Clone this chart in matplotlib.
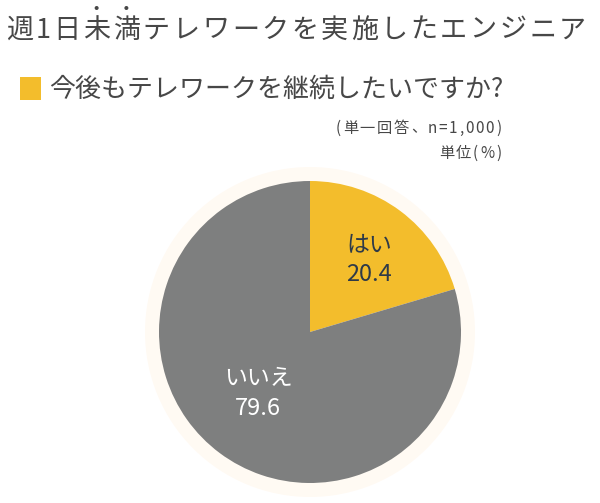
import matplotlib
matplotlib.use("Agg")
import matplotlib.pyplot as plt
from matplotlib.patches import Circle, Rectangle
import numpy as np

plt.rcParams['font.family'] = ['Noto Sans CJK JP', 'DejaVu Sans']

categories = ['はい', 'いいえ']
values = [20.4, 79.6]
colors = ['#F3BD2C', '#7E7F7F']
label_colors = ['#2E3A48', '#FFFFFF']
label_dist = [0.60, 0.51]
label_dx = [5, -6]

title = '週1日未満テレワークを実施したエンジニア'
emphasis = [3, 4]  # indices of 未, 満
question = '今後もテレワークを継続したいですか?'
note1 = '(単一回答、n=1,000)'
note2 = '単位(%)'

W, H = 600, 503
fig = plt.figure(figsize=(W / 100, H / 100), dpi=100)
fig.patch.set_facecolor('white')
ax = fig.add_axes([0, 0, 1, 1])
ax.set_xlim(0, W)
ax.set_ylim(0, H)
ax.set_aspect('equal')
ax.axis('off')

txt = '#474747'
renderer = fig.canvas.get_renderer()

# text drawn char by char with tracking to match span
def tracked_text(s, x0, x1, y, size, color):
    items = []
    widths = []
    for ch in s:
        t = ax.text(0, y, ch, fontsize=size, color=color, ha='left', va='center')
        bb = t.get_window_extent(renderer)
        items.append(t)
        widths.append(bb.width)
    gap = (x1 - x0 - sum(widths)) / (len(s) - 1)
    x = x0
    centers = []
    for t, w in zip(items, widths):
        t.set_x(x)
        centers.append(x + w / 2)
        x += w + gap
    return centers

centers = tracked_text(title, 6, 586, H - 30, 19.5, txt)
for i in emphasis:
    ax.add_patch(Circle((centers[i], H - 8), 2.0, color=txt, lw=0))

# legend square + question
ax.add_patch(Rectangle((20, H - 100), 21, 23, color=colors[0], lw=0))
ax.text(49, H - 89, question, fontsize=18.7, color=txt, ha='left', va='center')

tracked_text(note1, 336, 501, H - 128, 11, txt)
tracked_text(note2, 439, 501, H - 153, 11, txt)

cx, cy, r = 310, H - 332, 151
ax.add_patch(Circle((cx, cy), 165, color='#FFFAF3', lw=0, zorder=0))
wedges, _ = ax.pie(values, colors=colors, startangle=90, counterclock=False,
                   center=(cx, cy), radius=r, frame=True,
                   wedgeprops=dict(linewidth=0))
ax.set_xlim(0, W)
ax.set_ylim(0, H)
ax.axis('off')

for w, cat, val, c, d, dx in zip(wedges, categories, values, label_colors, label_dist, label_dx):
    ang = np.deg2rad((w.theta1 + w.theta2) / 2)
    x = cx + d * r * np.cos(ang) + dx
    y = cy + d * r * np.sin(ang)
    ax.text(x, y + 15, cat, fontsize=16.5, color=c, ha='center', va='center')
    ax.text(x, y - 15, f'{val:.1f}', fontsize=17, color=c, ha='center', va='center')

fig.savefig('out.png', dpi=100, facecolor='white')
